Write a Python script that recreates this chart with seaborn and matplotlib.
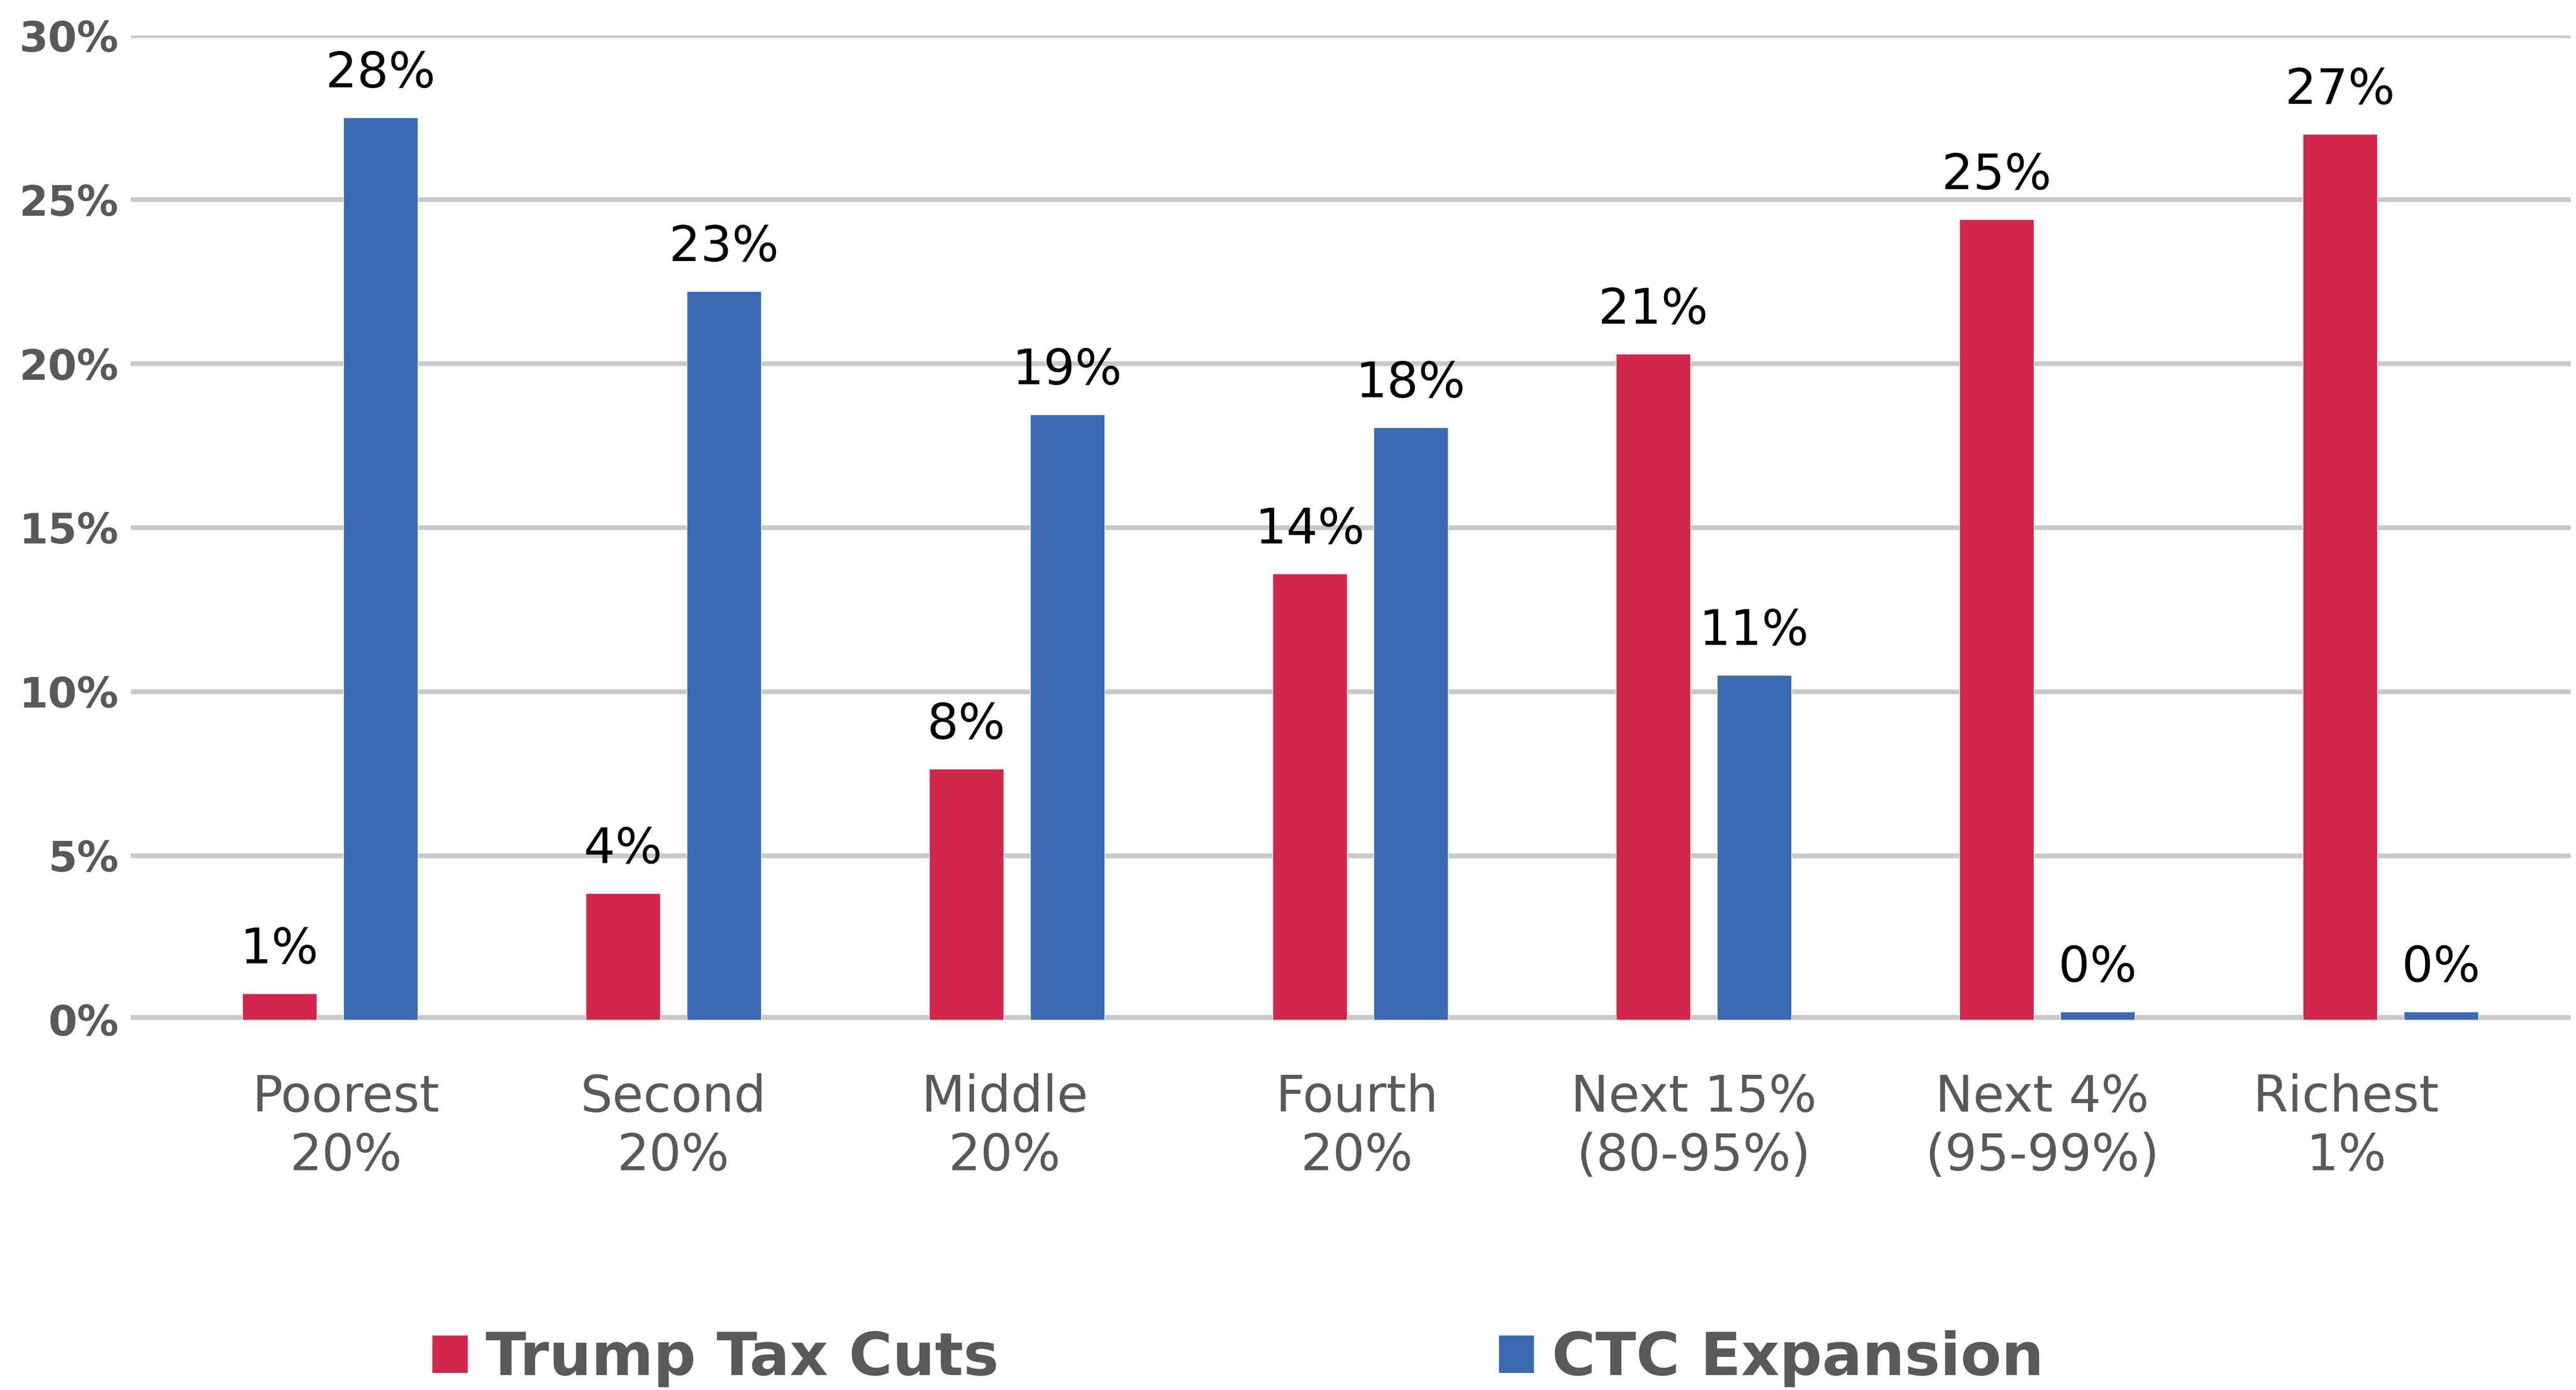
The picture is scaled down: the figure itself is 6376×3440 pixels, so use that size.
"""
Trump tax cuts vs CTC expansion: share of benefit by income group.
"""

import pandas as pd
import matplotlib
matplotlib.use("Agg")
import matplotlib.pyplot as plt
import matplotlib.transforms as mtransforms
import seaborn as sns

# --- data ---
groups = ["Poorest\n20%", "Second\n20%", "Middle\n20%", "Fourth\n20%",
          "Next 15%\n(80-95%)", "Next 4%\n(95-99%)", "Richest\n1%"]
series = ["Trump Tax Cuts", "CTC Expansion"]
trump_values = [0.8, 3.85, 7.65, 13.6, 20.3, 24.4, 27.0]
ctc_values = [27.5, 22.2, 18.45, 18.05, 10.5, 0.25, 0.25]
trump_labels = ["1%", "4%", "8%", "14%", "21%", "25%", "27%"]
ctc_labels = ["28%", "23%", "19%", "18%", "11%", "0%", "0%"]
y_ticks = [0, 5, 10, 15, 20, 25, 30]

RED = "#D2264A"
BLUE = "#3A6AB2"
GREY_TEXT = "#595959"
GRID = "#C9C9C9"


def build_frame():
    """Long-form table for seaborn"""
    rows = []
    for g, v in zip(groups, trump_values):
        rows.append({"group": g, "series": series[0], "value": v})
    for g, v in zip(groups, ctc_values):
        rows.append({"group": g, "series": series[1], "value": v})
    return pd.DataFrame(rows)


def make_chart(df):
    sns.set_style("white")
    plt.rcParams["font.family"] = ["DejaVu Sans"]

    fig = plt.figure(figsize=(63.76, 34.4), dpi=100)
    ax = fig.add_axes([0.0508, 0.2663, 0.9472, 0.7081])

    sns.barplot(data=df, x="group", y="value", hue="series",
                hue_order=series, order=groups, palette=[RED, BLUE],
                saturation=1, width=0.588, gap=0.265, errorbar=None,
                ax=ax, zorder=3)

    # gridlines and thick baseline
    ax.set_axisbelow(True)
    for t in y_ticks[1:]:
        ax.axhline(t, color=GRID, lw=8.5, zorder=0)
    ax.axhline(0, color=GRID, lw=18, zorder=1)

    ax.set_ylim(0, 30)
    ax.set_xlim(-0.58, 6.525)
    ax.set_yticks(y_ticks)
    ax.set_yticklabels([f"{t}%" for t in y_ticks], fontsize=74,
                       fontweight="bold", color=GREY_TEXT)
    ax.tick_params(axis="y", length=0, pad=22)
    ax.tick_params(axis="x", length=0, pad=95, labelsize=90,
                   labelcolor=GREY_TEXT)

    # category labels sit a little off-centre in the original
    shifts_px = [40, 0, -30, -8, -25, -12, -110]
    for lab, dx in zip(ax.get_xticklabels(), shifts_px):
        lab.set_linespacing(1.25)
        off = mtransforms.ScaledTranslation(dx / 100, 0, fig.dpi_scale_trans)
        lab.set_transform(lab.get_transform() + off)
    ax.set_xlabel("")
    ax.set_ylabel("")
    for s in ax.spines.values():
        s.set_visible(False)

    # value labels
    for cont, labs in zip(ax.containers, [trump_labels, ctc_labels]):
        ax.bar_label(cont, labels=labs, padding=36, fontsize=88,
                     color="black")

    # legend at the bottom
    handles, labels = ax.get_legend_handles_labels()
    ax.get_legend().remove()
    leg = fig.legend(handles, labels, loc="center left",
                     bbox_to_anchor=(0.1677, 0.0225), ncol=2,
                     frameon=False, fontsize=106, borderpad=0,
                     borderaxespad=0, handlelength=0.6, handleheight=0.6,
                     handletextpad=0.3, columnspacing=8.4)
    for txt in leg.get_texts():
        txt.set_color(GREY_TEXT)
        txt.set_fontweight("bold")

    fig.savefig("out.png", dpi=100, facecolor="white")
    plt.close(fig)


def main():
    df = build_frame()
    make_chart(df)


if __name__ == "__main__":
    main()
